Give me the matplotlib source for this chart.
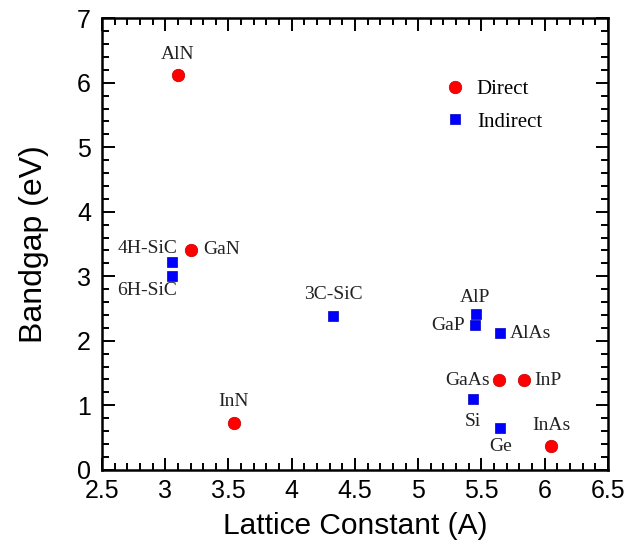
import matplotlib
matplotlib.use("Agg")
import matplotlib.pyplot as plt
from matplotlib.ticker import MultipleLocator

# lattice constant (A) and bandgap (eV)
direct_names = ["AlN", "GaN", "InN", "GaAs", "InP", "InAs"]
direct_a = [3.10, 3.20, 3.54, 5.64, 5.84, 6.05]
direct_eg = [6.12, 3.41, 0.73, 1.39, 1.39, 0.37]

indirect_names = ["4H-SiC", "6H-SiC", "3C-SiC", "AlP", "GaP", "AlAs", "Si", "Ge"]
indirect_a = [3.05, 3.05, 4.33, 5.46, 5.45, 5.65, 5.43, 5.65]
indirect_eg = [3.22, 3.01, 2.39, 2.41, 2.24, 2.12, 1.10, 0.64]

# label offsets in points (dx, dy, ha)
offsets = {
    "AlN": (0, 15, "center"), "GaN": (9, 0, "left"), "InN": (0, 15, "center"),
    "GaAs": (-7, 0, "right"), "InP": (7, 0, "left"), "InAs": (0, 15, "center"),
    "4H-SiC": (4, 10, "right"), "6H-SiC": (4, -11, "right"),
    "3C-SiC": (0, 15, "center"), "AlP": (-1, 12, "center"),
    "GaP": (-7, 0, "right"), "AlAs": (7, 0, "left"),
    "Si": (0, -16, "center"), "Ge": (0, -13, "center"),
}

fig = plt.figure(figsize=(6.26, 5.52), dpi=100)
ax = fig.add_axes([0.163, 0.149, 0.808, 0.818])

ax.plot(direct_a, direct_eg, "o", color="red", markersize=9, markeredgecolor="#c00000",
        markeredgewidth=0.5, label="Direct")
ax.plot(indirect_a, indirect_eg, "s", color="blue", markersize=7, markeredgecolor="#0000c0",
        markeredgewidth=0.5, label="Indirect")

for names, xs, ys in [(direct_names, direct_a, direct_eg), (indirect_names, indirect_a, indirect_eg)]:
    for n, x, y in zip(names, xs, ys):
        dx, dy, ha = offsets[n]
        ax.annotate(n, (x, y), xytext=(dx, dy), textcoords="offset points", ha=ha, va="center",
                    fontsize=14, family="Liberation Serif", color="#222222")

ax.set_xlim(2.5, 6.5)
ax.set_ylim(0, 7)
ax.xaxis.set_major_locator(MultipleLocator(0.5))
ax.xaxis.set_minor_locator(MultipleLocator(0.1))
ax.yaxis.set_major_locator(MultipleLocator(1))
ax.yaxis.set_minor_locator(MultipleLocator(0.2))
ax.xaxis.set_major_formatter(plt.FuncFormatter(lambda v, p: f"{v:g}"))
ax.tick_params(which="both", direction="in", top=True, right=True, width=1.4)
ax.tick_params(which="major", length=9, labelsize=18)
ax.tick_params(axis="x", which="major", pad=7)
ax.tick_params(axis="y", which="major", pad=8)
ax.tick_params(which="minor", length=5)
for lab in ax.get_xticklabels() + ax.get_yticklabels():
    lab.set_family("Liberation Sans")
for s in ax.spines.values():
    s.set_linewidth(1.8)

ax.set_xlabel("Lattice Constant (A)", fontsize=21.5, family="Liberation Sans", labelpad=6)
ax.set_ylabel("Bandgap (eV)", fontsize=23, family="Liberation Sans", labelpad=20)

ax.legend(loc="upper left", bbox_to_anchor=(0.64, 0.905), frameon=False,
          prop={"family": "Liberation Serif", "size": 15}, labelspacing=0.6,
          handletextpad=0.55, handlelength=1.0)

fig.savefig("out.png", dpi=100)
